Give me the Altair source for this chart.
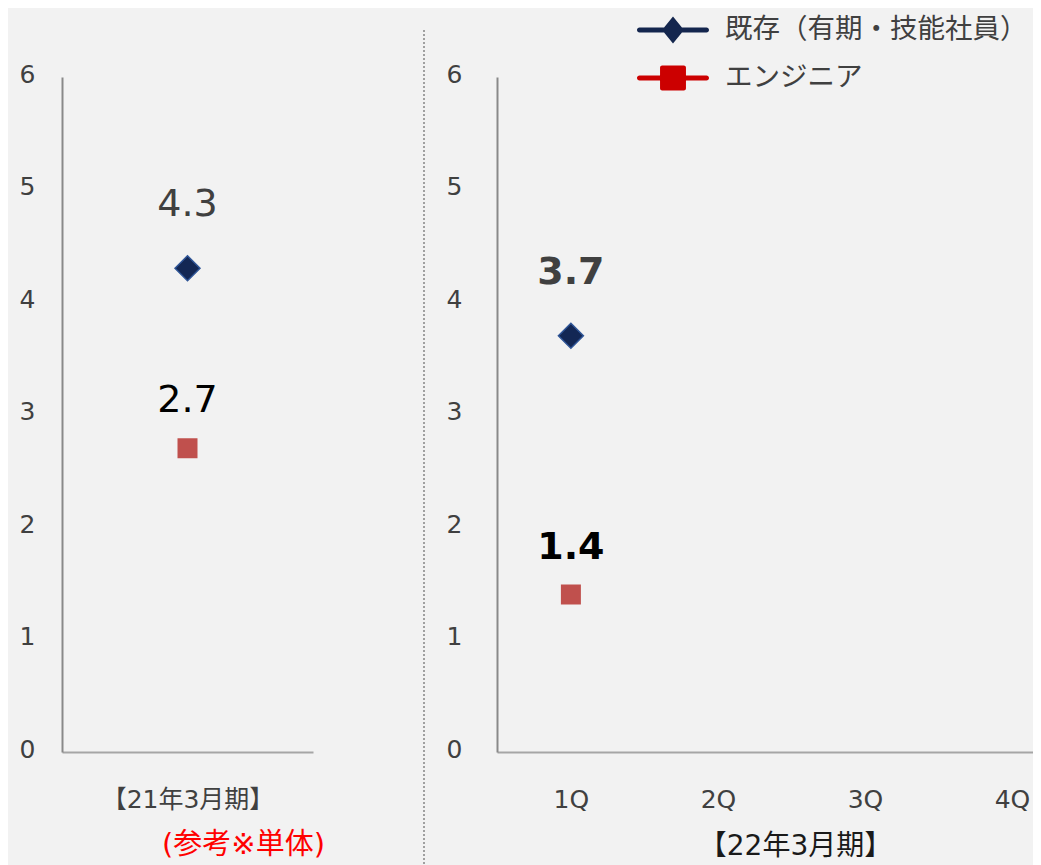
import altair as alt
import pandas as pd

# ---------------- data ----------------
series = ["既存（有期・技能社員）", "エンジニア"]
left_categories = ["【21年3月期】"]
right_categories = ["1Q", "2Q", "3Q", "4Q"]
left_existing = [4.3]
left_engineer = [2.7]
right_existing = [3.7]
right_engineer = [1.4]
y_ticks = [0, 1, 2, 3, 4, 5, 6]
left_note = "(参考※単体)"
right_title = "【22年3月期】"

FONT = "DejaVu Sans, Noto Sans CJK JP"
CJK = "Noto Sans CJK JP"
BG = "#f2f2f2"
LABEL = "#404040"
NAVY = "#132754"
NAVY_EDGE = "#2f5597"
RED_PT = "#c0504d"
LEG_NAVY = "#14264e"
LEG_RED = "#cc0000"

LINE = ("M-1.86,-0.14H1.86A0.14,0.14 0 0 1 1.86,0.14"
        "H-1.86A0.14,0.14 0 0 1 -1.86,-0.14Z ")
PATH_DIA = LINE + "M-0.61,0L0,-0.75L0.61,0L0,0.75Z"
PATH_SQ = (LINE +
           "M-0.6,-0.7H0.6Q0.72,-0.7 0.72,-0.58V0.58Q0.72,0.7 0.6,0.7"
           "H-0.6Q-0.72,0.7 -0.72,0.58V-0.58Q-0.72,-0.7 -0.6,-0.7Z")


def frame(cats, existing, engineer):
    rows = [{"cat": c, "series": series[0], "value": v} for c, v in zip(cats, existing)]
    rows += [{"cat": c, "series": series[1], "value": v} for c, v in zip(cats, engineer)]
    return pd.DataFrame(rows)


left_df = frame(left_categories, left_existing, left_engineer)
right_df = frame(right_categories, right_existing, right_engineer)
legend_df = pd.DataFrame({"series": series})
sep_df = pd.DataFrame({"k": [0]})

PLOT_H = 675


def panel(df, cats, xscale, label_pad, title, title_color, title_size, title_x, title_y, bold):
    x_axis = alt.Axis(
        title=title, titleColor=title_color, titleFont=FONT, titleFontSize=title_size,
        titleFontWeight="normal", titleX=title_x, titleY=title_y,
        titleAlign="center", titleBaseline="middle",
        labelAngle=0, labelFont=FONT, labelFontSize=25, labelColor=LABEL,
        labelPadding=35, ticks=False, domainColor="#a6a6a6", domainWidth=2,
        grid=False,
    )
    y_axis = alt.Axis(
        values=y_ticks, title=None, labelFont=FONT, labelFontSize=25,
        labelColor=LABEL, labelPadding=label_pad, labelOffset=-3, ticks=False,
        domainColor="#898989", domainWidth=2, grid=False,
    )
    base = alt.Chart(df).encode(
        x=alt.X("cat:N", sort=cats, scale=xscale, axis=x_axis),
        y=alt.Y("value:Q", scale=alt.Scale(domain=[0, 6], nice=False), axis=y_axis),
    )
    s0 = base.transform_filter(alt.datum.series == series[0])
    s1 = base.transform_filter(alt.datum.series == series[1])
    dia = s0.mark_point(shape="diamond", filled=True, size=625, color=NAVY,
                        stroke=NAVY_EDGE, strokeWidth=1.5, opacity=1)
    sq = s1.mark_point(shape="square", filled=True, size=400, color=RED_PT, opacity=1)
    weight = "bold" if bold else "normal"
    t0 = s0.mark_text(dy=-63, font=FONT, fontSize=38, fontWeight=weight,
                      color="#404040").encode(text=alt.Text("value:Q", format=".1f"))
    t1 = s1.mark_text(dy=-47, font=FONT, fontSize=38, fontWeight=weight,
                      color="#000000").encode(text=alt.Text("value:Q", format=".1f"))
    return [dia, sq, t0, t1]


left_layers = panel(
    left_df, left_categories,
    alt.Scale(type="point", domain=left_categories, padding=0.5),
    27, left_note, "#ff0000", 29, 181, 92, False,
)
left = alt.layer(*left_layers).properties(width=251, height=PLOT_H)

right_layers = panel(
    right_df, right_categories,
    alt.Scale(type="point", domain=right_categories, padding=0.35, align=0.718),
    35, right_title, "#1a1a1a", 28, 298, 94, True,
)

leg = alt.Legend(
    orient="none", legendX=593, legendY=-65, title=None, symbolSize=1296,
    symbolStrokeWidth=0, symbolOpacity=1, labelFont=CJK, labelFontSize=27.5,
    labelColor=LABEL, labelOffset=34, labelLimit=600, rowPadding=16, padding=0,
)
legend_layer = alt.Chart(legend_df).mark_point(filled=True, opacity=0).encode(
    color=alt.Color("series:N", scale=alt.Scale(domain=series, range=[LEG_NAVY, LEG_RED]), legend=leg),
    shape=alt.Shape("series:N", scale=alt.Scale(domain=series, range=[PATH_DIA, PATH_SQ]), legend=leg),
)
sep = alt.Chart(sep_df).mark_rule(color="#a0a0a0", strokeWidth=2, strokeDash=[2, 2]).encode(
    x=alt.value(-73), y=alt.value(-47), y2=alt.value(788)
)
right = alt.layer(sep, *right_layers, legend_layer).properties(width=544, height=PLOT_H)

chart = alt.hconcat(left, right, spacing=98).properties(
    autosize=alt.AutoSizeParams(type="none"),
    padding={"left": 54, "top": 69, "right": 971, "bottom": 780},
).configure(background=BG).configure_view(stroke=None)

chart.save("out.html", embed_options={"renderer": "svg", "actions": False})
